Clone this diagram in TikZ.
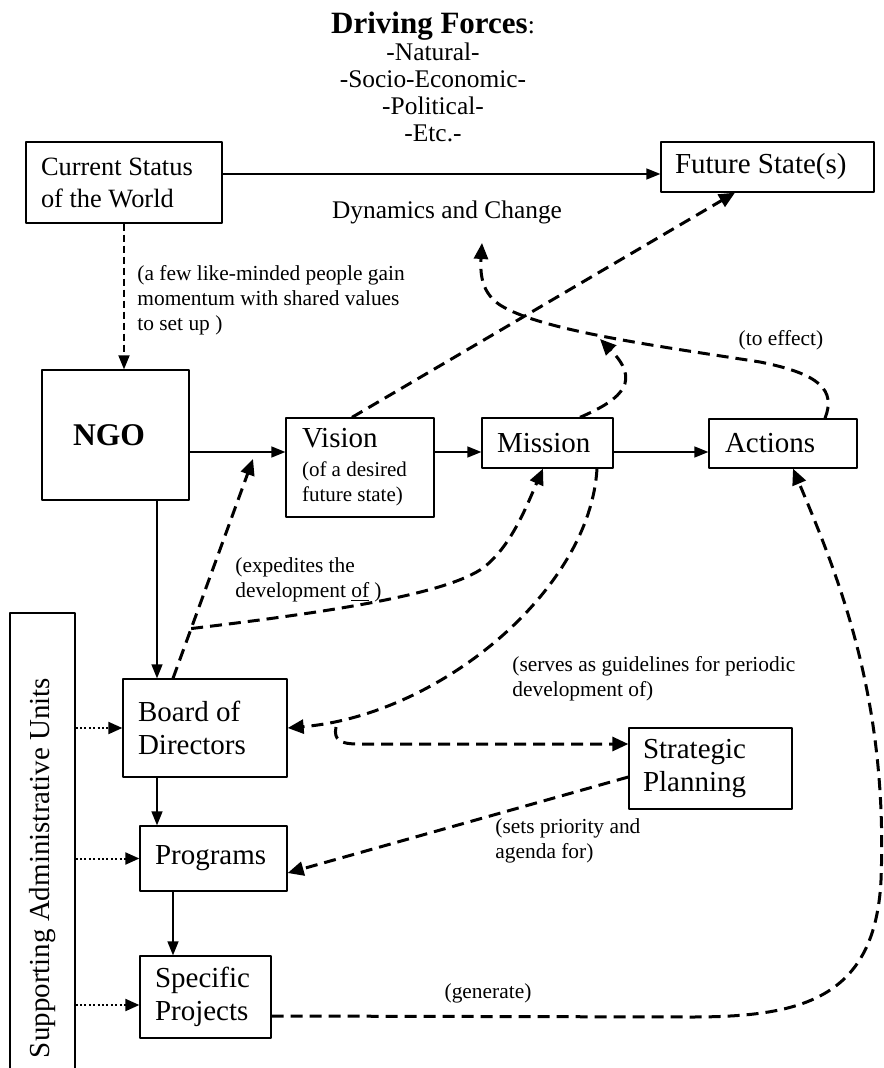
\documentclass[tikz,border=0pt]{standalone}
\usepackage{fontspec}
\setmainfont{Liberation Serif}
\usetikzlibrary{arrows.meta}
\begin{document}
\begin{tikzpicture}[x=0.5pt, y=-0.5pt, line join=round,
	box/.style={draw, line width=0.65pt, inner sep=0pt, align=flush left, font=\fontsize{14.5}{16.5}\selectfont},
	lbl/.style={inner sep=0pt, align=flush left, font=\fontsize{10.7}{12.5}\selectfont},
	arr/.style={line width=0.75pt, -{Triangle[length=7pt,width=5.5pt]}},
	thindash/.style={arr, line width=0.9pt, dash pattern=on 3.5pt off 2pt},
	dots/.style={line width=1pt, dash pattern=on 1pt off 1.2pt, -{Triangle[length=7pt,width=6pt]}},
	flow/.style={line width=1.5pt, dash pattern=on 6pt off 3.5pt, -{Triangle[length=8pt,width=7pt]}}]
	\useasboundingbox (0,0) rectangle (883,1068);
	% boxes
	\node[box, minimum width=98pt, minimum height=40.5pt, text width=83pt, font=\fontsize{13.2}{16}\selectfont] (cur) at (124,182.5) {Current Status\\of the World};
	\node[box, minimum width=106.5pt, minimum height=25pt, text width=92.5pt] (fut) at (767.5,167) {Future State(s)};
	\node[box, minimum width=73.5pt, minimum height=65pt, text width=42.5pt, font=\fontsize{15.8}{18}\selectfont\bfseries] (ngo) at (115.5,435) {NGO};
	\node[box, minimum width=74pt, minimum height=49.5pt, text width=58pt] (vis) at (360,467.5) {Vision\\[2pt]\fontsize{10.5}{12.5}\selectfont(of a desired\\future state)\par};
	\node[box, minimum width=65.5pt, minimum height=25pt, text width=50.5pt] (mis) at (547.5,443) {Mission};
	\node[box, minimum width=74pt, minimum height=24.5pt, text width=58pt] (act) at (783,443.5) {Actions};
	\node[box, minimum width=82pt, minimum height=49pt, text width=67pt] (brd) at (205,728) {Board of\\Directors};
	\node[box, minimum width=73.5pt, minimum height=32.5pt, text width=58.5pt] (prg) at (213.5,858.5) {Programs};
	\node[box, minimum width=65.5pt, minimum height=41pt, text width=50.5pt] (spc) at (205.5,997) {Specific\\Projects};
	\node[box, minimum width=81.5pt, minimum height=40.5pt, text width=67.5pt] (stp) at (710.5,768.5) {Strategic\\Planning};
	\node[box, rotate=90, minimum width=255pt, minimum height=32.5pt, align=center] (sup) at (42.5,868) {Supporting Administrative Units};
	% texts
	\node[align=center, anchor=north, inner sep=0pt, font=\fontsize{12.7}{13.5}\selectfont] (drv) at (433,12) {{\fontsize{15.5}{13.5}\selectfont\bfseries Driving Forces}:\\-Natural-\\-Socio-Economic-\\-Political-\\-Etc.-};
	\node[inner sep=0pt, font=\fontsize{12.7}{15}\selectfont] (dyn) at (447,212) {Dynamics and Change};
	\node[lbl, anchor=west] (lset) at (137,300) {(a few like-minded people gain\\momentum with shared values\\to set up )};
	\node[lbl, anchor=west] (lexp) at (235,580) {(expedites the\\development \underline{of} )};
	\node[lbl, anchor=west] (lgde) at (512,679) {(serves as guidelines for periodic\\development of)};
	\node[lbl, anchor=west] (lpri) at (495,841) {(sets priority and\\agenda for)};
	\node[lbl] (leff) at (781,340) {(to effect)};
	\node[lbl] (lgen) at (488,993) {(generate)};
	% solid and dotted links
	\coordinate (row) at ([yshift=-4.5pt]mis.west);
	\coordinate (ctop) at ([yshift=4.25pt]cur.east);
	\coordinate (trunk) at ([xshift=20.75pt]ngo.south);
	\coordinate (stem) at ([xshift=-20.25pt]prg.south);
	\coordinate (sp1) at ([yshift=-4pt]spc.west);
	\draw[arr] (ctop) -- (ctop -| fut.west);
	\draw[arr] (ngo.east |- row) -- (vis.west |- row);
	\draw[arr] (vis.east |- row) -- (mis.west |- row);
	\draw[arr] (mis.east |- row) -- (act.west |- row);
	\draw[thindash] (cur.south) -- (cur.south |- ngo.north);
	\draw[arr] (trunk) -- (trunk |- brd.north);
	\draw[arr] (trunk |- brd.south) -- (trunk |- prg.north);
	\draw[arr] (stem) -- (stem |- spc.north);
	\draw[dots] (brd.west -| sup.south) -- (brd.west);
	\draw[dots] (prg.west -| sup.south) -- (prg.west);
	\draw[dots] (sp1 -| sup.south) -- (sp1);
	% dashed flows
	\coordinate (hit) at (253,459);
	\coordinate (hook) at (336,727);
	\coordinate (dynend) at (482,243);
	\coordinate (effend) at (600,339);
	\draw[flow] ([xshift=-4pt]vis.north) -- ([xshift=-16.25pt]fut.south);
	\draw[flow] ([xshift=-16pt]brd.north) -- coordinate[pos=0.227] (fork) (hit);
	\draw[flow] (fork) .. controls (330,612) and (440,595) .. (480,570) .. controls (510,550) and (527,505) .. ([xshift=-2.25pt]mis.south);
	\draw[flow] ([xshift=24.75pt]mis.south) .. controls (590,590) and (440,715) .. (brd.east);
	\draw[flow] (hook) .. controls (333,741) and (342,744) .. (358,744) -- ([yshift=12.25pt]stp.west);
	\draw[flow] ([yshift=-4.25pt]stp.west) -- ([yshift=-7.25pt]prg.east);
	\draw[flow] ([yshift=-9.5pt]spc.east) -- (690,1017) .. controls (800,1017) and (875,1000) .. (881,880) .. controls (888,700) and (840,580) .. ([xshift=5pt]act.south);
	\draw[flow] ([xshift=21pt]act.north) .. controls (836,390) and (820,374) .. (760,362) .. controls (650,345) and (540,330) .. (500,305) .. controls (482,293) and (480,275) .. (dynend);
	\draw[flow] ([xshift=16.25pt]mis.north) .. controls (625,398) and (640,380) .. (effend);
\end{tikzpicture}
\end{document}
